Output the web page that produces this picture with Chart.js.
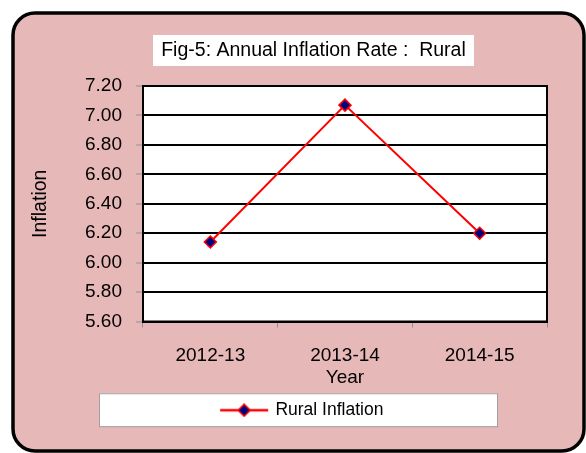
<!DOCTYPE html>
<html>
<head>
<meta charset="utf-8">
<script src="https://cdn.jsdelivr.net/npm/chart.js@4.4.1/dist/chart.umd.min.js"></script>
<style>
  html, body { margin: 0; padding: 0; background: #ffffff; }
  #wrap { width: 586px; height: 453px; }
</style>
</head>
<body>
<div id="wrap"><canvas id="inflation" width="586" height="453"></canvas></div>
<script>
// valeurs
var years = ['2012-13', '2013-14', '2014-15'];
var ruralInflation = [6.14, 7.07, 6.20];
var yMin = 5.6;
var yMax = 7.2;
var yStep = 0.2;

var chartTitle = 'Fig-5: Annual Inflation Rate :  Rural';
var seriesLabel = 'Rural Inflation';
var xTitle = 'Year';
var yTitle = 'Inflation';

var fontFamily = '"Liberation Sans", Arial, sans-serif';
var pink = '#e6b8b7';

/**
 * Construis l'icone de la légende (trait + losange)
 */
function buildLegendIcon(){
    let c = document.createElement('canvas');
    c.width = 50;
    c.height = 14;
    let ctx = c.getContext('2d');
    ctx.strokeStyle = '#ff0000';
    ctx.lineWidth = 2.5;
    ctx.beginPath();
    ctx.moveTo(1, 7);
    ctx.lineTo(49, 7);
    ctx.stroke();
    ctx.beginPath();
    ctx.moveTo(19, 7);
    ctx.lineTo(25, 1);
    ctx.lineTo(31, 7);
    ctx.lineTo(25, 13);
    ctx.closePath();
    ctx.fillStyle = '#000080';
    ctx.fill();
    ctx.lineWidth = 1.5;
    ctx.stroke();
    return c;
}

var legendIcon = buildLegendIcon();

// fond rose, cadre arrondi, zone blanche, boites titre et légende
var framePlugin = {
    id: 'frame',
    beforeDraw: function(chart){
        let ctx = chart.ctx;
        let area = chart.chartArea;
        ctx.save();
        ctx.beginPath();
        ctx.roundRect(13, 13, 571, 438, 22);
        ctx.fillStyle = pink;
        ctx.fill();
        ctx.lineWidth = 3.5;
        ctx.strokeStyle = '#000000';
        ctx.stroke();

        // boite du titre
        let t = chart.titleBlock;
        let tw = 321;
        let tcx = (t.left + t.right) / 2;
        let tcy = t.top + t.options.padding.top + (t.height - t.options.padding.top - t.options.padding.bottom) / 2;
        ctx.fillStyle = '#ffffff';
        ctx.fillRect(tcx - tw / 2, tcy - 16, tw, 31);

        // zone du graphique
        ctx.fillRect(area.left, area.top, area.right - area.left, area.bottom - area.top);

        // boite de la légende
        let hb = chart.legend.legendHitBoxes[0];
        let ly = hb.top + hb.height / 2;
        ctx.fillRect(99, ly - 17, 398, 33);
        ctx.lineWidth = 1;
        ctx.strokeStyle = '#a0a0a0';
        ctx.strokeRect(99.5, ly - 16.5, 398, 33);
        ctx.restore();
    },
    beforeDatasetsDraw: function(chart){
        let ctx = chart.ctx;
        let area = chart.chartArea;
        ctx.save();
        ctx.lineWidth = 2;
        ctx.strokeStyle = '#000000';
        ctx.strokeRect(area.left, area.top, area.right - area.left, area.bottom - area.top);
        ctx.restore();
    },
    afterLayout: function(chart){
        // recentre titre et légende comme sur l'original
        chart.titleBlock.left += 40;
        chart.titleBlock.right += 40;
        chart.legend.left += 29;
        chart.legend.right += 29;
    }
};

var ctx = document.getElementById('inflation').getContext('2d');
var chart = new Chart(ctx, {
    type: 'line',
    data: {
        labels: years,
        datasets: [{
            label: seriesLabel,
            data: ruralInflation,
            borderColor: '#ff0000',
            borderWidth: 2,
            backgroundColor: '#000080',
            pointStyle: 'rectRot',
            pointRadius: 6,
            pointHoverRadius: 6,
            pointBorderColor: '#ff0000',
            pointBorderWidth: 1.5,
            pointBackgroundColor: '#000080',
            tension: 0,
            fill: false
        }]
    },
    options: {
        responsive: false,
        animation: false,
        devicePixelRatio: 1,
        layout: {
            padding: { top: 0, left: 0, right: 39, bottom: 24 }
        },
        plugins: {
            title: {
                display: true,
                text: chartTitle,
                color: '#000000',
                font: { family: fontFamily, size: 19.5, weight: 'normal' },
                padding: { top: 39.3, bottom: 23.3 }
            },
            legend: {
                display: true,
                position: 'bottom',
                labels: {
                    color: '#000000',
                    font: { family: fontFamily, size: 17.5 },
                    padding: 12,
                    usePointStyle: true,
                    pointStyleWidth: 45,
                    generateLabels: function(chart){
                        return [{
                            text: seriesLabel,
                            pointStyle: legendIcon,
                            fillStyle: '#000080',
                            strokeStyle: '#ff0000',
                            lineWidth: 0,
                            datasetIndex: 0,
                            fontColor: '#000000'
                        }];
                    }
                }
            },
            tooltip: { enabled: false }
        },
        scales: {
            x: {
                offset: true,
                afterFit: function(scale){ scale.height = 68; },
                grid: {
                    display: true,
                    offset: true,
                    drawOnChartArea: false,
                    tickLength: 6,
                    tickColor: '#909090',
                    tickWidth: 1
                },
                border: { color: '#000000', width: 2 },
                ticks: {
                    color: '#000000',
                    padding: 16.6,
                    maxRotation: 0,
                    font: { family: fontFamily, size: 19 }
                },
                title: {
                    display: true,
                    text: xTitle,
                    color: '#000000',
                    padding: { top: 0, bottom: 0 },
                    font: { family: fontFamily, size: 19 }
                }
            },
            y: {
                min: yMin,
                max: yMax,
                afterFit: function(scale){ scale.width = 143; },
                grid: {
                    color: '#000000',
                    lineWidth: 2,
                    tickLength: 7,
                    tickColor: '#909090',
                    tickWidth: 1
                },
                border: { color: '#000000', width: 2 },
                ticks: {
                    stepSize: yStep,
                    color: '#000000',
                    padding: 14,
                    font: { family: fontFamily, size: 19 },
                    callback: function(value){ return Number(value).toFixed(2); }
                },
                title: {
                    display: true,
                    text: yTitle,
                    color: '#000000',
                    padding: { top: 28.6, bottom: 0 },
                    font: { family: fontFamily, size: 19.5 }
                }
            }
        }
    },
    plugins: [framePlugin]
});
</script>
</body>
</html>
